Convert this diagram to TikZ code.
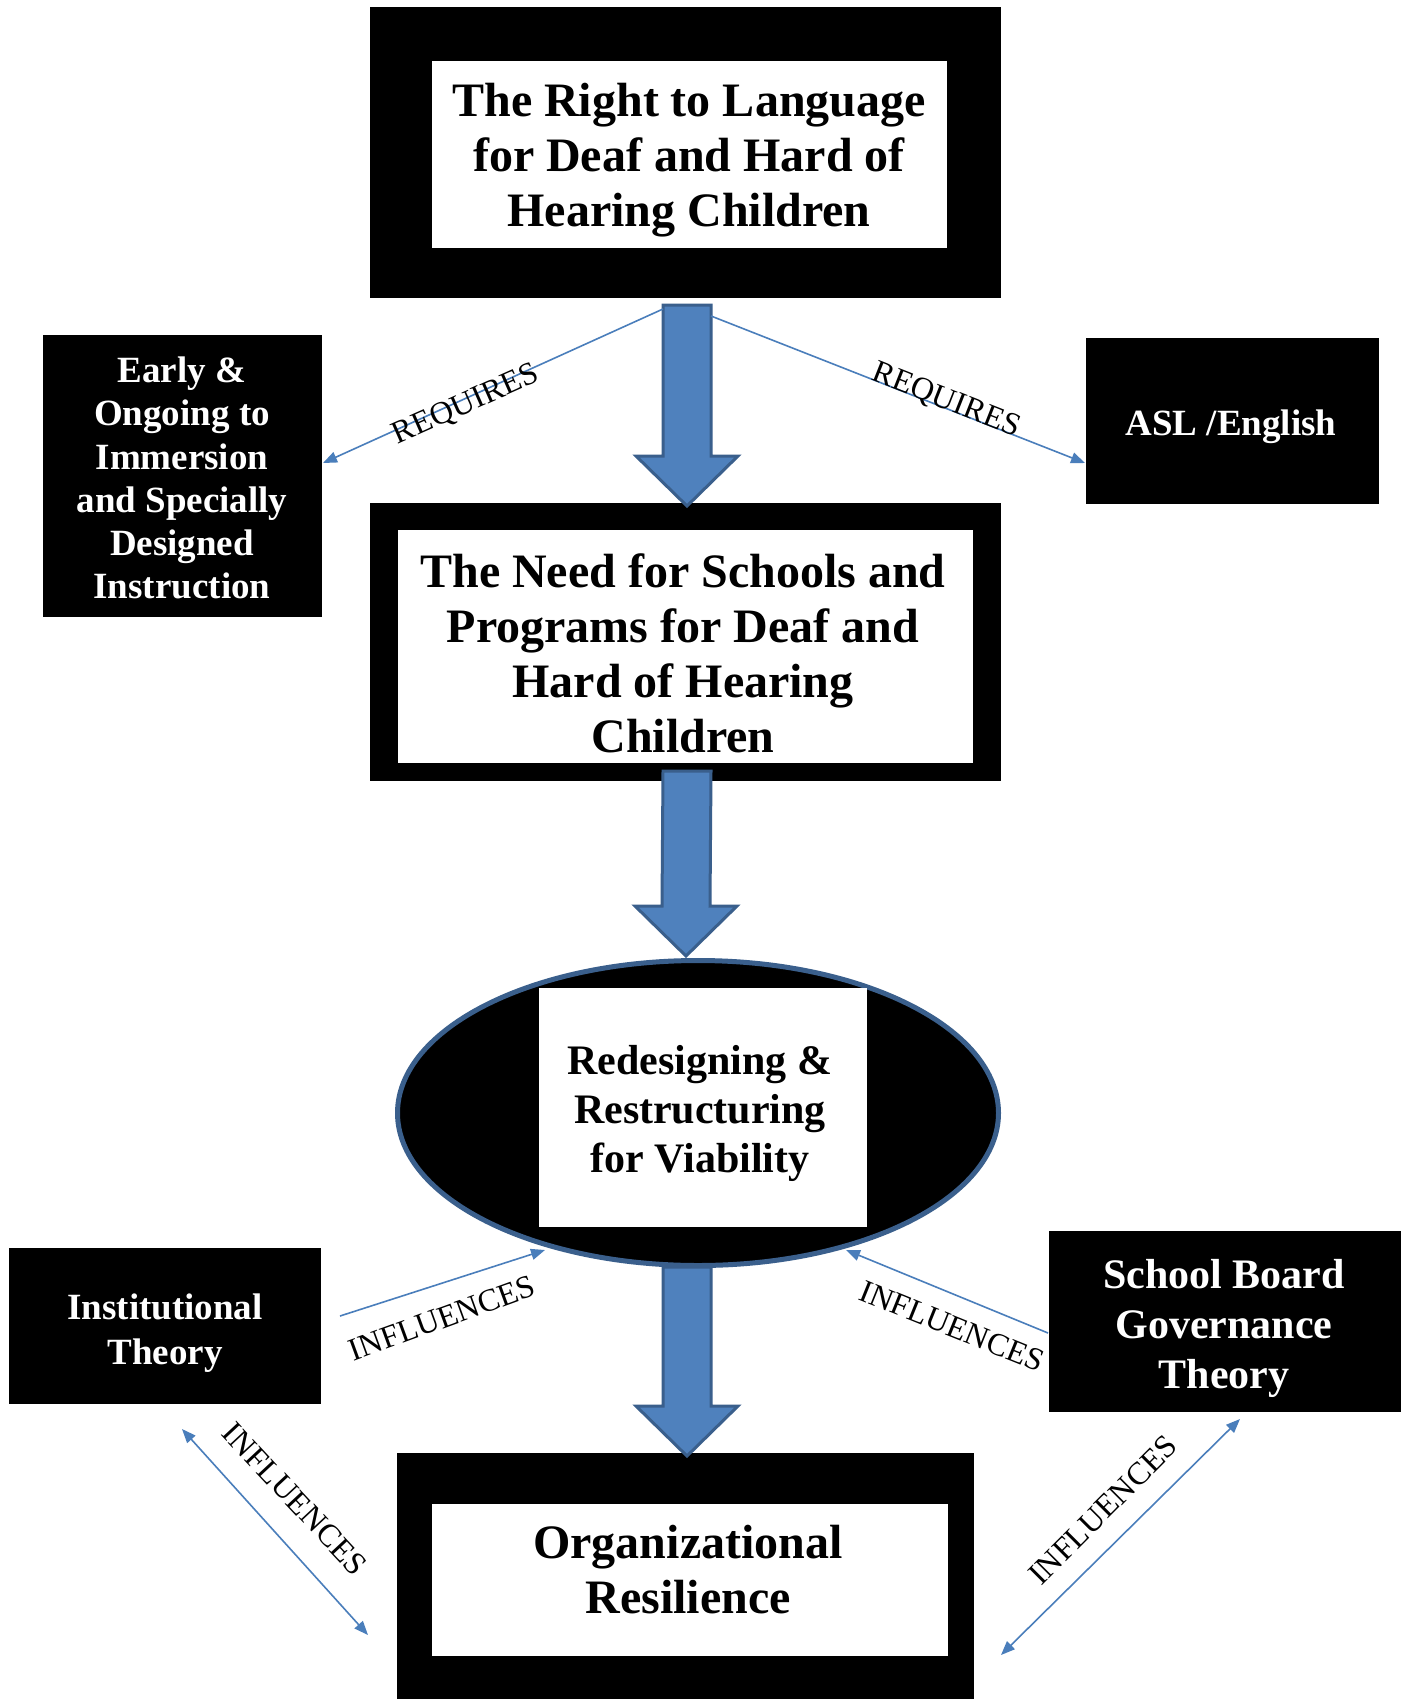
\documentclass[tikz,border=0pt]{standalone}
\usepackage{fontspec}
\setmainfont{Liberation Serif}
\usetikzlibrary{calc,shapes.geometric,arrows.meta}
\definecolor{barfill}{HTML}{4F81BD}
\definecolor{bardraw}{HTML}{3A5F8C}
\definecolor{conncol}{HTML}{4A7EBB}
\newcommand\blockarrow[2]{%
  \draw[barrow] ($(#1)+(-24,0)$) -- ($(#1)+(24,0)$) -- ($(#2)+(24,-50)$) -- ($(#2)+(51,-50)$) -- (#2) -- ($(#2)+(-51,-50)$) -- ($(#2)+(-24,-50)$) -- cycle;}
\begin{document}
\begin{tikzpicture}[x=1pt,y=-1pt,
  frame/.style={fill=black,draw=none,inner sep=0pt,outer sep=0pt},
  whitebox/.style={fill=white,draw=none,inner sep=0pt,outer sep=0pt},
  bigtxt/.style={align=center,inner sep=0pt,font=\fontsize{48}{55}\selectfont\bfseries},
  ovaltxt/.style={align=center,inner sep=0pt,font=\fontsize{42}{49}\selectfont\bfseries},
  sidetxt/.style={align=center,inner sep=0pt,text=white,font=\fontsize{37}{43.2}\selectfont\bfseries},
  sidetxtb/.style={align=center,inner sep=0pt,text=white,font=\fontsize{42}{50}\selectfont\bfseries},
  lbl/.style={inner sep=0pt,font=\fontsize{32}{36}\selectfont},
  barrow/.style={fill=barfill,draw=bardraw,line width=3pt,line join=miter},
  conn/.style={draw=conncol,line width=1.6pt,-{Triangle[length=14pt,width=11pt]}},
  dconn/.style={draw=conncol,line width=1.6pt,{Triangle[length=14pt,width=11pt]}-{Triangle[length=14pt,width=11pt]}}
]
\useasboundingbox (0,0) rectangle (1408,1699);
\fill[white] (0,0) rectangle (1408,1699);

% boxes
\node[frame,minimum width=631pt,minimum height=291pt] (topframe) at (685.5,152.5) {};
\node[whitebox,minimum width=515pt,minimum height=187pt] (topwhite) at (689.5,154.5) {};
\node[bigtxt] (toptxt) at (689,160) {The Right to Language\\for Deaf and Hard of\\Hearing Children};

\node[frame,minimum width=279pt,minimum height=282pt] (early) at (182.5,476) {};
\node[sidetxt] (earlytxt) at (182,478) {Early \&\\Ongoing to\\Immersion\\and Specially\\Designed\\Instruction};

\node[frame,minimum width=293pt,minimum height=166pt] (asl) at (1232.5,421) {};
\node[sidetxt] (asltxt) at (1231,427) {ASL /English};

\node[frame,minimum width=631pt,minimum height=278pt] (midframe) at (685.5,642) {};
\node[whitebox,minimum width=575pt,minimum height=233pt] (midwhite) at (685.5,646.5) {};
\node[bigtxt] (midtxt) at (683,653) {The Need for Schools and\\Programs for Deaf and\\Hard of Hearing\\Children};

\node[ellipse,fill=black,draw=bardraw,line width=5pt,inner sep=0pt,minimum width=601pt,minimum height=305pt] (oval) at (698,1113) {};
\node[whitebox,minimum width=328pt,minimum height=239pt] (ovalwhite) at (703,1107.5) {};
\node[ovaltxt] (ovaltext) at (700,1113) {Redesigning \&\\Restructuring\\for Viability};

\node[frame,minimum width=312pt,minimum height=156pt] (inst) at (165,1326) {};
\node[sidetxt,font=\fontsize{37}{45}\selectfont\bfseries] (insttxt) at (165,1333) {Institutional\\Theory};

\node[frame,minimum width=352pt,minimum height=181pt] (school) at (1225,1321.5) {};
\node[sidetxtb] (schooltxt) at (1224,1328) {School Board\\Governance\\Theory};

\node[frame,minimum width=577pt,minimum height=270pt] (orgframe) at (685.5,1588) {};
\node[whitebox,minimum width=516pt,minimum height=152pt] (orgwhite) at (690,1580) {};
\node[bigtxt] (orgtxt) at (688,1570) {Organizational\\Resilience};

% block arrows
\coordinate (a1top) at (687,305);
\coordinate (a1tip) at (687,506);
\coordinate (a2top) at (687,771);
\coordinate (a2tip) at (686,956);
\coordinate (a3top) at (687,1267);
\coordinate (a3tip) at (687,1456);
\blockarrow{a1top}{a1tip}
\blockarrow{a2top}{a2tip}
\blockarrow{a3top}{a3tip}

% thin connectors
\coordinate (reqLs) at (663,309);
\coordinate (reqLe) at (323,463);
\coordinate (reqRs) at (711,316);
\coordinate (reqRe) at (1085,463);
\draw[conn] (reqLs) -- (reqLe);
\draw[conn] (reqRs) -- (reqRe);
\node[lbl,rotate=24] (reqLlbl) at (466,405) {REQUIRES};
\node[lbl,rotate=-21.5] (reqRlbl) at (946,401) {REQUIRES};

\coordinate (inf1s) at (340,1316);
\coordinate (inf1e) at (545,1250);
\coordinate (inf2s) at (1048,1333);
\coordinate (inf2e) at (846,1250);
\draw[conn] (inf1s) -- (inf1e);
\draw[conn] (inf2s) -- (inf2e);
\node[lbl,rotate=20] (inf1lbl) at (442,1318) {INFLUENCES};
\node[lbl,rotate=-22] (inf2lbl) at (952,1326) {INFLUENCES};

\coordinate (inf3s) at (182,1429);
\coordinate (inf3e) at (368,1635);
\coordinate (inf4s) at (1240,1419);
\coordinate (inf4e) at (1001,1655);
\draw[dconn] (inf3s) -- (inf3e);
\draw[dconn] (inf4s) -- (inf4e);
\node[lbl,rotate=-47] (inf3lbl) at (295,1499) {INFLUENCES};
\node[lbl,rotate=45] (inf4lbl) at (1103,1510) {INFLUENCES};
\end{tikzpicture}
\end{document}
